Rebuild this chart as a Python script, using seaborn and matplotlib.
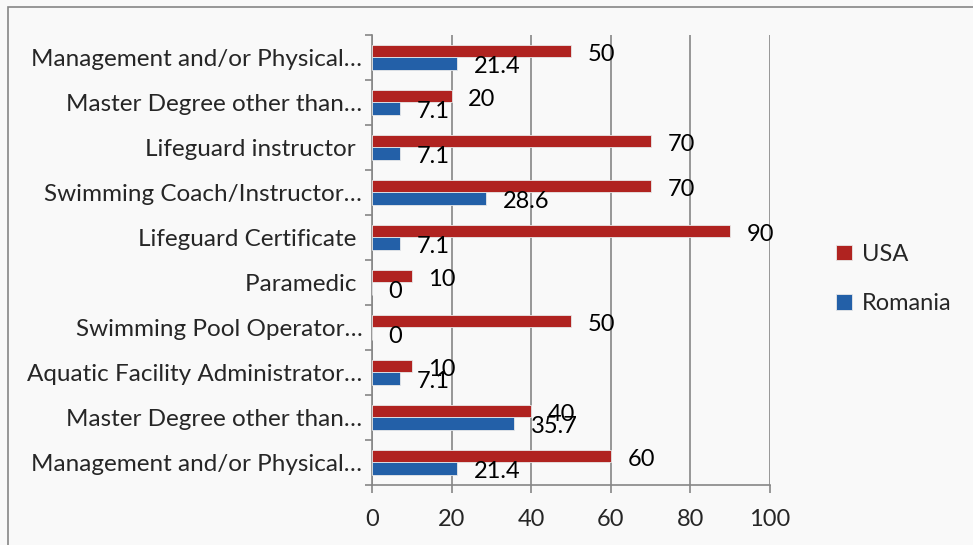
import pandas as pd
import seaborn as sns
import matplotlib.pyplot as plt
from matplotlib.patches import Rectangle

# Данные графика (сверху вниз)
categories = [
    'Management and/or Physical…',
    'Master Degree other than…',
    'Lifeguard instructor ',
    'Swimming Coach/Instructor…',
    'Lifeguard Certificate ',
    'Paramedic ',
    'Swimming Pool Operator…',
    'Aquatic Facility Administrator…',
    'Master Degree other than…',
    'Management and/or Physical…',
]
usa = [50, 20, 70, 70, 90, 10, 50, 10, 40, 60]
romania = [21.4, 7.1, 7.1, 28.6, 7.1, 0, 0, 7.1, 35.7, 21.4]
xticks = [0, 20, 40, 60, 80, 100]

keys = ['c%d' % i for i in range(len(categories))]
df = pd.DataFrame({
    'key': keys * 2,
    'value': usa + romania,
    'country': ['USA'] * len(keys) + ['Romania'] * len(keys),
})

sns.set_style('white')
plt.rcParams['font.family'] = ['Lato', 'DejaVu Sans']

bg = '#f9f9f9'
fig = plt.figure(figsize=(9.73, 5.45), dpi=100, facecolor=bg)
ax = fig.add_axes([372 / 973, 1 - 485 / 545, (770 - 372) / 973, (485 - 35) / 545])
ax.set_facecolor(bg)

sns.barplot(data=df, x='value', y='key', hue='country', order=keys,
            hue_order=['USA', 'Romania'], palette=['#b02320', '#2360a8'],
            orient='h', width=0.54, edgecolor='#e8e8e8', linewidth=0.6,
            saturation=1, ax=ax, zorder=3)

for cont in ax.containers:
    anns = ax.bar_label(cont, labels=['%g' % v for v in cont.datavalues],
                        padding=12, fontsize=17, color='black')
    for a in anns:
        a.xyann = (12, -2)

ax.set_xlim(0, 100)
ax.set_ylim(9.5, -0.5)
ax.set_xticks(xticks)
ax.set_yticks(range(len(categories)))
ax.set_yticklabels(categories)
ax.set_yticks([i - 0.5 for i in range(len(categories) + 1)], minor=True)
ax.tick_params(axis='y', which='major', length=0, pad=7, labelsize=17.5)
ax.tick_params(axis='y', which='minor', length=5, color='#868686', width=1.2, left=True)
ax.tick_params(axis='x', length=6, color='#868686', width=1.2, pad=11, labelsize=17, bottom=True)
ax.grid(axis='x', color='#868686', linewidth=1.2, zorder=0)
ax.set_axisbelow(True)
ax.set_xlabel('')
ax.set_ylabel('')
for s in ['top', 'right']:
    ax.spines[s].set_visible(False)
for s in ['left', 'bottom']:
    ax.spines[s].set_color('#868686')
    ax.spines[s].set_linewidth(1.2)

ax.legend(loc='center left', bbox_to_anchor=(815 / 973, 1 - 279 / 545),
          bbox_transform=fig.transFigure, frameon=False, fontsize=17,
          handlelength=0.65, handleheight=0.65, labelspacing=1.2, handletextpad=0.45)

fig.patches.append(Rectangle((8 / 973, -0.05), 1.1, 1.05 - 7 / 545,
                             transform=fig.transFigure, fill=False,
                             edgecolor='#868686', linewidth=1.2))

plt.savefig('out.png', dpi=100, facecolor=bg)
plt.close()
